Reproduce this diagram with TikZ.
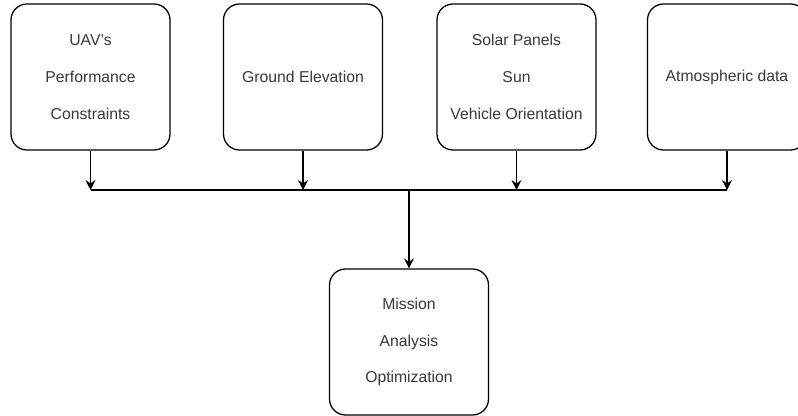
\documentclass[tikz,border=0pt]{standalone}
\usepackage{fontspec}
\setmainfont{Liberation Sans}
\usetikzlibrary{arrows.meta, positioning}

\tikzset{
  boite/.style={draw, line width=0.9pt, rounded corners=0.4cm, minimum width=3.975cm, minimum height=3.65cm, align=center, text=black!78, font=\fontsize{11.2}{26.2}\selectfont},
  fleche/.style={line width=0.9pt, -{Stealth[length=7pt, width=7pt]}}
}

\begin{document}
\begin{tikzpicture}
    \useasboundingbox (0,0) rectangle (19.95,10.4);
    % Les quatre boites du haut
    \node[boite] (uav) at (2.2625,8.475) {UAV's\\Performance\\Constraints};
    \node[boite] (sol) at (7.575,8.475) {Ground Elevation};
    \node[boite] (soleil) at (12.9125,8.475) {Solar Panels\\Sun\\Vehicle Orientation};
    \node[boite] (atmo) at (18.175,8.475) {Atmospheric data};
    % Boite du bas
    \node[boite] (mission) at (10.225,1.85) {Mission\\Analysis\\Optimization};
    % Points sur la ligne commune
    \coordinate (j1) at (uav.south |- 0,5.65);
    \coordinate (j2) at (sol.south |- 0,5.65);
    \coordinate (j3) at (soleil.south |- 0,5.65);
    \coordinate (j4) at (atmo.south |- 0,5.65);
    \coordinate (jm) at (mission.north |- 0,5.65);
    % Fleches
    \draw[fleche] (uav.south) -- (j1);
    \draw[fleche] (sol.south) -- (j2);
    \draw[fleche] (soleil.south) -- (j3);
    \draw[fleche] (atmo.south) -- (j4);
    \draw[line width=0.9pt] (j1) -- (j4);
    \draw[fleche] (jm) -- (mission.north);
\end{tikzpicture}
\end{document}
